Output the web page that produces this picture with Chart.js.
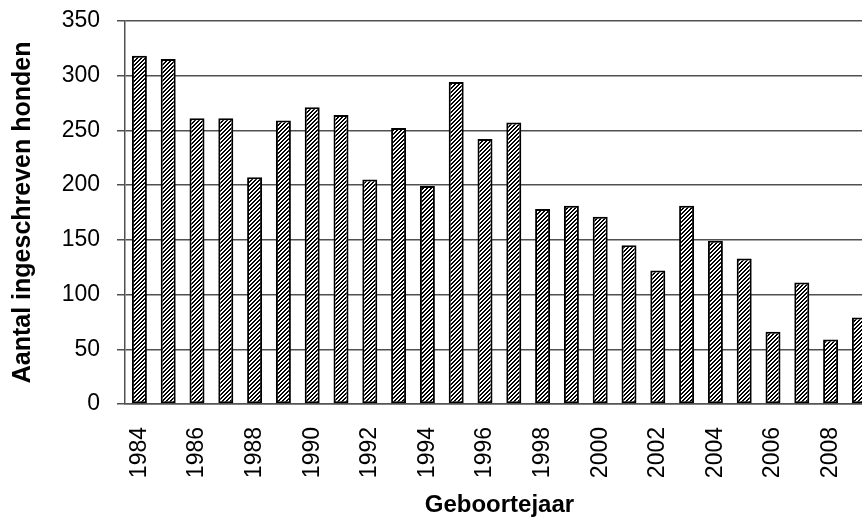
<!DOCTYPE html>
<html lang="nl">
<head>
    <meta charset="UTF-8">
    <title>Geboortejaar</title>
    <script src="https://cdn.jsdelivr.net/npm/chart.js@4.4.2/dist/chart.umd.min.js"></script>
    <style>
        html, body { margin: 0; padding: 0; overflow: hidden; background: #fff; }
        #dogchart { display: block; margin-top: -10px; }
    </style>
</head>
<body>

    <canvas id="dogchart" width="910" height="527"></canvas>

    <script>

        const years = ['1984', '1985', '1986', '1987', '1988', '1989', '1990', '1991', '1992',
            '1993', '1994', '1995', '1996', '1997', '1998', '1999', '2000', '2001', '2002',
            '2003', '2004', '2005', '2006', '2007', '2008', '2009'];
        const dogs = [318, 315, 261, 261, 207, 259, 271, 264, 205, 252, 199, 294, 242, 257,
            178, 181, 171, 145, 122, 181, 149, 133, 66, 111, 59, 79];
        const yTicks = [0, 50, 100, 150, 200, 250, 300, 350];

        const fontFamily = '"Liberation Sans", Arial, sans-serif';

        // diagonal hatch like the old excel fill
        function hatch() {
            const c = document.createElement('canvas');
            c.width = 4;
            c.height = 4;
            const g = c.getContext('2d');
            g.fillStyle = '#fff';
            g.fillRect(0, 0, 4, 4);
            g.fillStyle = '#000';
            for (let y = 0; y < 4; y++) {
                for (let x = 0; x < 4; x++) {
                    if ((x + y) % 4 < 2) g.fillRect(x, y, 1, 1);
                }
            }
            return g.createPattern(c, 'repeat');
        }

        const ctx = document.getElementById('dogchart');

        new Chart(ctx, {
            type: 'bar',
            data: {
                labels: years,
                datasets: [{
                    data: dogs,
                    backgroundColor: hatch(),
                    borderColor: '#000',
                    borderWidth: 2,
                    borderSkipped: false,
                    categoryPercentage: 0.52,
                    barPercentage: 1
                }]
            },
            options: {
                responsive: false,
                animation: false,
                layout: { padding: { top: 10, right: 0, bottom: 0, left: 0 } },
                plugins: {
                    legend: { display: false },
                    tooltip: { enabled: false }
                },
                scales: {
                    x: {
                        grid: { display: false, drawTicks: false },
                        border: { color: '#555', width: 1.5 },
                        ticks: {
                            autoSkip: false,
                            maxRotation: 90,
                            minRotation: 90,
                            padding: 23,
                            color: '#000',
                            font: { family: fontFamily, size: 23 },
                            callback: (v, i) => (i % 2 === 0 ? years[i] : '')
                        },
                        title: {
                            display: true,
                            text: 'Geboortejaar',
                            color: '#000',
                            padding: 0,
                            font: { family: fontFamily, size: 24, weight: 'bold', lineHeight: 1 }
                        },
                        afterFit: s => { s.height = 113; }
                    },
                    y: {
                        min: 0,
                        max: 350,
                        afterBuildTicks: s => { s.ticks = yTicks.map(v => ({ value: v })); },
                        grid: { color: '#505050', lineWidth: 1.5, tickLength: 8 },
                        border: { color: '#505050', width: 1.5 },
                        ticks: {
                            padding: 17,
                            color: '#000',
                            font: { family: fontFamily, size: 23 }
                        },
                        title: {
                            display: true,
                            text: 'Aantal ingeschreven honden',
                            color: '#000',
                            padding: { top: 8, bottom: 0 },
                            font: { family: fontFamily, size: 25, weight: 'bold' }
                        },
                        afterFit: s => { s.width = 125; }
                    }
                }
            }
        });
    </script>
</body>
</html>
